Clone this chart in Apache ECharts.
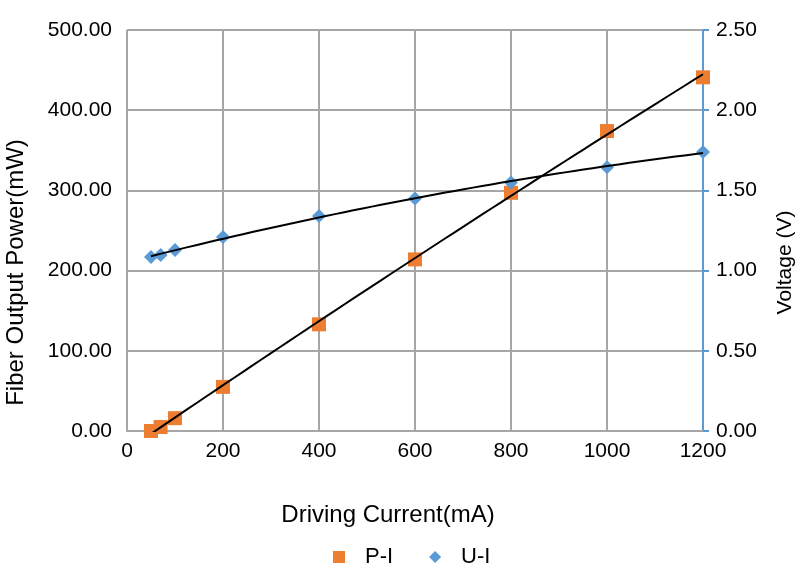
<!DOCTYPE html>
<html>
<head>
<meta charset="utf-8">
<script src="https://cdn.jsdelivr.net/npm/echarts@6/dist/echarts.min.js"></script>
<style>
  html, body { margin: 0; padding: 0; background: #fff; }
  #main { width: 800px; height: 578px; }
</style>
</head>
<body>
<div id="main"></div>
<script>
  // 电流 (mA)
  var current = [50, 70, 100, 200, 400, 600, 800, 1000, 1200];
  // P-I (mW)
  var power = [0, 5, 16, 55, 133, 214, 297, 374, 441];
  // U-I (V)
  var voltage = [1.085, 1.097, 1.128, 1.21, 1.34, 1.45, 1.55, 1.645, 1.74];

  // 二次多项式拟合, 画趋势线用
  function polyFit2(xs, ys) {
    var n = xs.length, s = [0, 0, 0, 0, 0], t = [0, 0, 0];
    for (var i = 0; i < n; i++) {
      var x = xs[i], p = 1;
      for (var k = 0; k < 5; k++) { s[k] += p; if (k < 3) t[k] += p * ys[i]; p *= x; }
    }
    var m = [[s[0], s[1], s[2], t[0]], [s[1], s[2], s[3], t[1]], [s[2], s[3], s[4], t[2]]];
    for (var c = 0; c < 3; c++) {
      for (var r = c + 1; r < 3; r++) {
        var f = m[r][c] / m[c][c];
        for (var j = c; j < 4; j++) m[r][j] -= f * m[c][j];
      }
    }
    var a = [0, 0, 0];
    for (var r2 = 2; r2 >= 0; r2--) {
      var sum = m[r2][3];
      for (var j2 = r2 + 1; j2 < 3; j2++) sum -= m[r2][j2] * a[j2];
      a[r2] = sum / m[r2][r2];
    }
    return a;
  }

  function trend(xs, ys) {
    var a = polyFit2(xs, ys), out = [];
    var x0 = xs[0], x1 = xs[xs.length - 1];
    for (var i = 0; i <= 60; i++) {
      var x = x0 + (x1 - x0) * i / 60;
      out.push([x, a[0] + a[1] * x + a[2] * x * x]);
    }
    return out;
  }

  function pairs(xs, ys) {
    var out = [];
    for (var i = 0; i < xs.length; i++) out.push([xs[i], ys[i]]);
    return out;
  }

  var myChart = echarts.init(document.getElementById('main'));
  var font = 'Liberation Sans, Arial, sans-serif';

  var option = {
    animation: false,
    textStyle: { fontFamily: font },
    grid: { left: 127, right: 97, top: 30, bottom: 147, outerBoundsMode: 'none' },
    legend: {
      data: [
        { name: 'P-I', icon: 'rect' },
        { name: 'U-I', icon: 'diamond' }
      ],
      bottom: 10,
      left: 333,
      padding: 0,
      itemWidth: 12,
      itemHeight: 12,
      itemGap: 36,
      textStyle: { fontSize: 22, color: '#000', fontFamily: font, padding: [0, 0, 0, 15] }
    },
    xAxis: {
      type: 'value',
      min: 0,
      max: 1200,
      interval: 200,
      name: 'Driving Current(mA)',
      nameLocation: 'middle',
      nameGap: 72,
      nameTextStyle: { fontSize: 24, color: '#000', padding: [0, 54, 0, 0] },
      axisLine: { show: true, lineStyle: { color: '#a6a6a6', width: 2 } },
      axisTick: { show: false },
      axisLabel: { fontSize: 21, color: '#000', margin: 10, formatter: function (v) { return String(v); } },
      splitLine: { show: true, lineStyle: { color: '#a6a6a6', width: 2 } }
    },
    yAxis: [
      {
        type: 'value',
        min: 0,
        max: 500,
        interval: 100,
        name: 'Fiber Output Power(mW)',
        nameLocation: 'middle',
        nameGap: 99,
        nameTextStyle: { fontSize: 24, color: '#000', padding: [0, 84, 0, 0] },
        axisLine: { show: false },
        axisTick: { show: false },
        axisLabel: { fontSize: 21, color: '#000', margin: 15, formatter: function (v) { return v.toFixed(2); } },
        splitLine: { show: true, lineStyle: { color: '#a6a6a6', width: 2 } }
      },
      {
        type: 'value',
        min: 0,
        max: 2.5,
        interval: 0.5,
        position: 'right',
        name: 'Voltage (V)',
        nameLocation: 'middle',
        nameGap: 72,
        nameRotate: 90,
        nameTextStyle: { fontSize: 21, color: '#000', padding: [0, 64, 0, 0] },
        axisLine: { show: true, lineStyle: { color: '#5b9bd5', width: 2 } },
        axisTick: { show: true, length: 6, lineStyle: { color: '#5b9bd5', width: 2 } },
        axisLabel: { fontSize: 21, color: '#000', margin: 13, formatter: function (v) { return v.toFixed(2); } },
        splitLine: { show: false }
      }
    ],
    series: [
      {
        name: 'P-I trend',
        type: 'line',
        yAxisIndex: 0,
        data: trend(current, power),
        showSymbol: false,
        lineStyle: { color: '#000', width: 2 },
        silent: true,
        z: 3
      },
      {
        name: 'U-I trend',
        type: 'line',
        yAxisIndex: 1,
        data: trend(current, voltage),
        showSymbol: false,
        lineStyle: { color: '#000', width: 2 },
        silent: true,
        z: 3
      },
      {
        name: 'P-I',
        type: 'scatter',
        yAxisIndex: 0,
        data: pairs(current, power),
        symbol: 'rect',
        symbolSize: 14,
        itemStyle: { color: '#ed7d31', opacity: 1 },
        z: 2
      },
      {
        name: 'U-I',
        type: 'scatter',
        yAxisIndex: 1,
        data: pairs(current, voltage),
        symbol: 'diamond',
        symbolSize: 14,
        itemStyle: { color: '#5b9bd5', opacity: 1 },
        z: 2
      }
    ]
  };
  myChart.setOption(option);
</script>
</body>
</html>
